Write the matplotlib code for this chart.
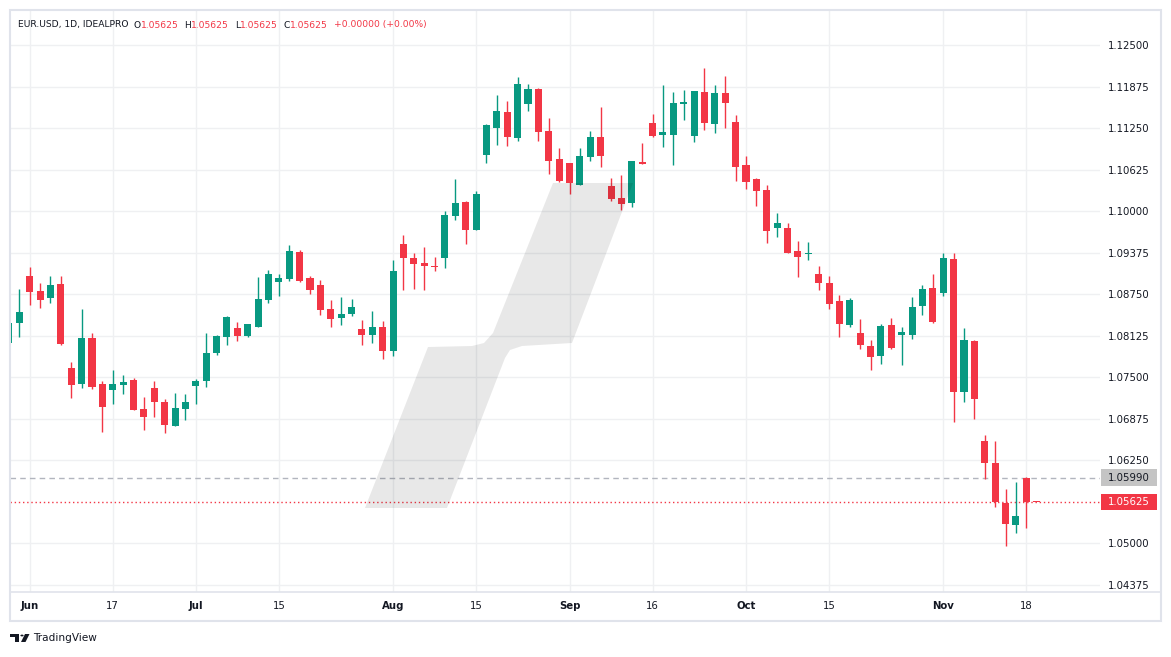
import numpy as np
import matplotlib
matplotlib.use("Agg")
import matplotlib.pyplot as plt
from matplotlib.patches import Polygon, Rectangle, Circle
from matplotlib.lines import Line2D
import matplotlib.transforms as mtransforms

# daily candles, EUR.USD IDEALPRO
opens = [1.08015, 1.08316, 1.09023, 1.08798, 1.08692, 1.08903, 1.07639, 1.07398, 1.08090, 1.07398,
         1.07308, 1.07383, 1.07458, 1.07022, 1.07338, 1.07127, 1.06766, 1.07022, 1.07368, 1.07443,
         1.07865, 1.08105, 1.08241, 1.08120, 1.08256, 1.08662, 1.08933, 1.08978, 1.09385, 1.08993,
         1.08888, 1.08527, 1.08391, 1.08452, 1.08226, 1.08136, 1.08256, 1.07895, 1.09505, 1.09294,
         1.09219, 1.09174, 1.09294, 1.09926, 1.10137, 1.09716, 1.10845, 1.11251, 1.11492, 1.11100,
         1.11612, 1.11838, 1.11206, 1.10784, 1.10724, 1.10393, 1.10814, 1.11115, 1.10378, 1.10197,
         1.10122, 1.10739, 1.11326, 1.11145, 1.11145, 1.11612, 1.11130, 1.11793, 1.11311, 1.11778,
         1.11341, 1.10694, 1.10483, 1.10318, 1.09746, 1.09746, 1.09400, 1.09355, 1.09054, 1.08918,
         1.08647, 1.08286, 1.08166, 1.07970, 1.07820, 1.08286, 1.08136, 1.08136, 1.08572, 1.08843,
         1.08768, 1.09279, 1.07278, 1.08045, 1.06540, 1.06209, 1.05607, 1.05276, 1.05983, 1.05625]
highs = [1.08346, 1.08828, 1.09159, 1.08918, 1.09023, 1.09023, 1.07729, 1.08527, 1.08166, 1.07443,
         1.07609, 1.07533, 1.07488, 1.07202, 1.07443, 1.07172, 1.07263, 1.07248, 1.07473, 1.08166,
         1.08136, 1.08421, 1.08331, 1.08301, 1.09008, 1.09114, 1.09054, 1.09490, 1.09415, 1.09023,
         1.08963, 1.08662, 1.08707, 1.08677, 1.08361, 1.08497, 1.08346, 1.09264, 1.09641, 1.09370,
         1.09460, 1.09309, 1.10002, 1.10483, 1.10152, 1.10303, 1.11311, 1.11748, 1.11657, 1.12018,
         1.11913, 1.11853, 1.11401, 1.10950, 1.10724, 1.10950, 1.11206, 1.11567, 1.10498, 1.10544,
         1.10754, 1.11025, 1.11462, 1.11898, 1.11793, 1.11823, 1.11808, 1.12154, 1.11898, 1.12033,
         1.11447, 1.10829, 1.10498, 1.10393, 1.09971, 1.09821, 1.09550, 1.09535, 1.09174, 1.09023,
         1.08737, 1.08692, 1.08376, 1.08060, 1.08301, 1.08391, 1.08256, 1.08707, 1.08888, 1.09054,
         1.09370, 1.09370, 1.08241, 1.08060, 1.06630, 1.06540, 1.05818, 1.05923, 1.05998, 1.05625]
lows = [1.07985, 1.08105, 1.08587, 1.08542, 1.08617, 1.07985, 1.07187, 1.07338, 1.07323, 1.06676,
        1.07097, 1.07248, 1.07007, 1.06706, 1.06901, 1.06661, 1.06766, 1.06856, 1.07097, 1.07353,
        1.07834, 1.07985, 1.08045, 1.08105, 1.08256, 1.08617, 1.08722, 1.08948, 1.08933, 1.08753,
        1.08437, 1.08256, 1.08286, 1.08422, 1.07985, 1.08015, 1.07774, 1.07820, 1.08813, 1.08828,
        1.08813, 1.09099, 1.09144, 1.09866, 1.09505, 1.09716, 1.10724, 1.10995, 1.10980, 1.11055,
        1.11507, 1.11055, 1.10558, 1.10438, 1.10258, 1.10393, 1.10754, 1.10664, 1.10152, 1.10017,
        1.10062, 1.10709, 1.11115, 1.10965, 1.10694, 1.11371, 1.11040, 1.11221, 1.11176, 1.11251,
        1.10453, 1.10333, 1.10077, 1.09520, 1.09610, 1.09370, 1.09009, 1.09264, 1.08813, 1.08527,
        1.08105, 1.08256, 1.07925, 1.07609, 1.07699, 1.07925, 1.07684, 1.08075, 1.08437, 1.08316,
        1.08722, 1.06827, 1.07127, 1.06872, 1.05968, 1.05547, 1.04960, 1.05156, 1.05231, 1.05625]
closes = [1.08316, 1.08482, 1.08783, 1.08662, 1.08888, 1.08000, 1.07383, 1.08090, 1.07353, 1.07052,
          1.07398, 1.07428, 1.07007, 1.06901, 1.07127, 1.06781, 1.07037, 1.07127, 1.07443, 1.07865,
          1.08120, 1.08406, 1.08120, 1.08301, 1.08677, 1.09054, 1.08993, 1.09400, 1.08948, 1.08813,
          1.08512, 1.08376, 1.08452, 1.08557, 1.08136, 1.08256, 1.07895, 1.09099, 1.09294, 1.09204,
          1.09174, 1.09159, 1.09941, 1.10122, 1.09716, 1.10258, 1.11296, 1.11507, 1.11115, 1.11913,
          1.11838, 1.11191, 1.10754, 1.10453, 1.10423, 1.10829, 1.11115, 1.10829, 1.10182, 1.10107,
          1.10754, 1.10709, 1.11130, 1.11191, 1.11627, 1.11642, 1.11808, 1.11326, 1.11778, 1.11627,
          1.10664, 1.10438, 1.10303, 1.09701, 1.09821, 1.09370, 1.09309, 1.09370, 1.08918, 1.08602,
          1.08301, 1.08662, 1.07985, 1.07804, 1.08271, 1.07940, 1.08181, 1.08557, 1.08828, 1.08331,
          1.09294, 1.07278, 1.08060, 1.07172, 1.06209, 1.05622, 1.05291, 1.05411, 1.05622, 1.05625]

tick_pos = [2, 10, 18, 26, 37, 45, 54, 62, 71, 79, 90, 98]
tick_labels = ["Jun", "17", "Jul", "15", "Aug", "15", "Sep", "16", "Oct", "15", "Nov", "18"]
price_ticks = [1.04375, 1.05, 1.05625, 1.0625, 1.06875, 1.075, 1.08125, 1.0875,
               1.09375, 1.1, 1.10625, 1.1125, 1.11875, 1.125]
price_ticks = [p for p in price_ticks if p != 1.05625]
last_price = 1.05625
prev_close = 1.05990

UP = "#089981"
DOWN = "#f23645"
GRID = "#eff0f2"
FRAME = "#e0e3eb"
TXT = "#131722"

W, H = 1171, 657
fig = plt.figure(figsize=(W / 100, H / 100), dpi=100)
fig.patch.set_facecolor("white")


def fx(x):
    return x / W


def fy(y):
    return 1 - y / H


ax = fig.add_axes([fx(10), fy(592), 1090 / W, 582 / H])
ax.set_xlim(0.1, 105.1)
ax.set_ylim(1.04268, 1.13027)

o = np.array(opens)
h = np.array(highs)
l = np.array(lows)
c = np.array(closes)
idx = np.arange(len(o))
colors = np.where(c > o, UP, DOWN)

ax.vlines(idx, l, h, colors=colors, lw=1.0, zorder=3)
body_lo = np.minimum(o, c)
body_h = np.maximum(np.abs(c - o), 0.00016)
ax.bar(idx, body_h, bottom=body_lo, width=0.68, color=colors, lw=0, zorder=4)

# reference lines
ax.axhline(prev_close, color="#b2b5be", lw=1, ls=(0, (4, 3)), zorder=2)
ax.axhline(last_price, color=DOWN, lw=1, ls=(0, (1, 2)), zorder=2)

ax.set_yticks(price_ticks)
ax.set_yticklabels(["%.5f" % p for p in price_ticks])
ax.yaxis.tick_right()
ax.tick_params(axis="y", length=0, pad=6, labelsize=7.3, labelcolor=TXT)
ax.set_xticks(tick_pos)
ax.set_xticklabels(tick_labels)
ax.tick_params(axis="x", length=0, pad=6.5, labelsize=7.3, labelcolor=TXT)
for lab in ax.get_xticklabels():
    if lab.get_text().isalpha():
        lab.set_fontweight("bold")
ax.grid(True, color=GRID, lw=1, zorder=0)
ax.set_axisbelow(True)
for s in ax.spines.values():
    s.set_visible(False)

# price tags on the right scale
btr = mtransforms.blended_transform_factory(ax.transAxes, ax.transData)
tag_h = 0.0025
for val, fc, tc in [(prev_close, "#c4c4c4", TXT), (last_price, DOWN, "white")]:
    ax.add_patch(Rectangle((1 + 1 / 1090, val - tag_h / 2), 56 / 1090, tag_h,
                           transform=btr, fc=fc, ec="none", clip_on=False, zorder=5))
    ax.text(1 + 8.3 / 1090, val, "%.5f" % val, transform=btr, ha="left", va="center",
            fontsize=7.3, color=tc, zorder=6, clip_on=False)

# watermark
wm = [(365, 508), (428, 347), (472, 346), (484, 343), (493, 333), (553, 183), (633, 183),
      (572, 343), (522, 346), (510, 350), (505, 358), (447, 508)]
ax.add_patch(Polygon([(fx(x), fy(y)) for x, y in wm], closed=True, transform=fig.transFigure,
                     fc="black", alpha=0.09, ec="none", zorder=7))

# frame and time axis separator
fig.add_artist(Rectangle((fx(10), fy(621)), 1151 / W, 611 / H, transform=fig.transFigure,
                         fill=False, ec=FRAME, lw=1.5))
fig.add_artist(Line2D([fx(10), fx(1161)], [fy(592), fy(592)], transform=fig.transFigure,
                      color=FRAME, lw=1.2))

# legend line at the top
r = fig.canvas.get_renderer()
x = 18
pieces = [("EUR.USD, 1D, IDEALPRO", TXT, 5), ("O", TXT, 0), ("1.05625", DOWN, 6),
          ("H", TXT, 0), ("1.05625", DOWN, 6), ("L", TXT, 0), ("1.05625", DOWN, 6),
          ("C", TXT, 0), ("1.05625", DOWN, 6), ("+0.00000 (+0.00%)", DOWN, 0)]
for s, col, gap in pieces:
    t = fig.text(fx(x), fy(25), s, color=col, fontsize=6.6, ha="left", va="center")
    x += t.get_window_extent(renderer=r).width + gap

# TradingView logo
fig.add_artist(Rectangle((fx(10), fy(637)), 9 / W, 3 / H, transform=fig.transFigure, fc=TXT, ec="none"))
fig.add_artist(Rectangle((fx(15), fy(642)), 4 / W, 8 / H, transform=fig.transFigure, fc=TXT, ec="none"))
fig.add_artist(Circle((fx(22), fy(635.5)), 1.6 / W, transform=fig.transFigure, fc=TXT, ec="none"))
fig.add_artist(Polygon([(fx(25), fy(634)), (fx(29.5), fy(634)), (fx(25.5), fy(642)), (fx(21), fy(642))],
                       closed=True, transform=fig.transFigure, fc=TXT, ec="none"))
fig.text(fx(33), fy(638), "TradingView", fontsize=7.6, color=TXT, ha="left", va="center")

fig.savefig("out.png", dpi=100, facecolor="white")
